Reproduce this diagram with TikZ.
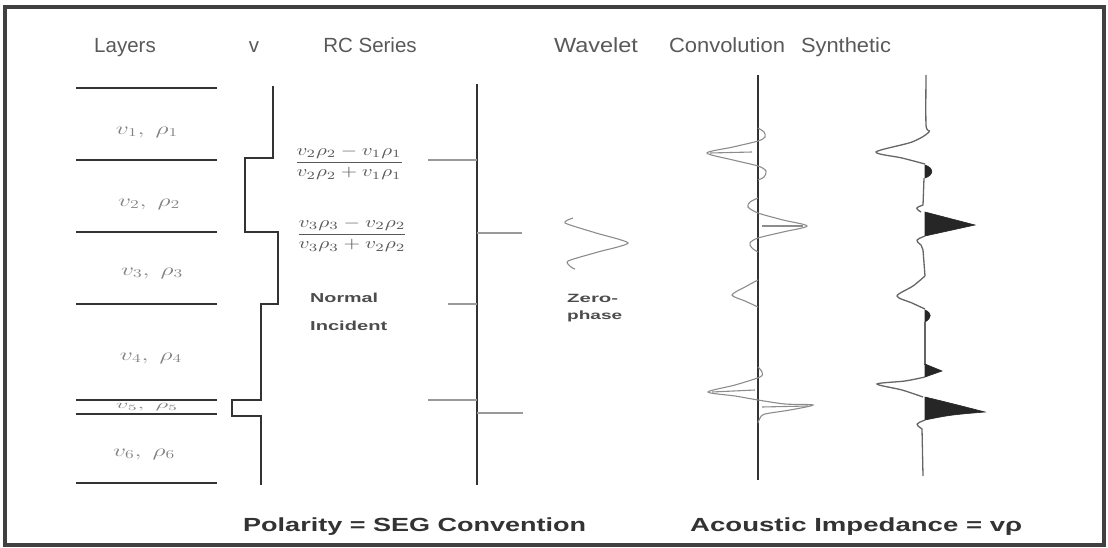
\documentclass[tikz,border=0pt]{standalone}
\usepackage{fontspec}
\setmainfont{Liberation Sans}
\usepackage{graphicx}
\begin{document}
\begin{tikzpicture}[x=1pt,y=-1pt,
  frame/.style={line width=4pt, draw=black!75},
  layer/.style={line width=2.8pt, draw=black!80},
  prof/.style={line width=2.2pt, draw=black!80},
  axis/.style={line width=1.8pt, draw=black!80},
  spike/.style={line width=1.1pt, draw=black!40},
  trace/.style={line width=1.1pt, draw=black!45},
  syn/.style={line width=1.3pt, draw=black!60},
  lobe/.style={fill=black!85, draw=black!85, line width=0.6pt},
  head/.style={text=black!65, font=\fontsize{20.5}{20.5}\selectfont, anchor=base, inner sep=0pt},
  lab/.style={text=black!50, anchor=center, inner sep=0pt},
  frac/.style={text=black!65, anchor=center, inner sep=0pt},
  note/.style={text=black!70, font=\fontsize{13}{13}\selectfont\bfseries, anchor=base west, inner sep=0pt},
  foot/.style={text=black!80, font=\fontsize{19}{19}\selectfont\bfseries, anchor=base west, inner sep=0pt},
]
\useasboundingbox (0,0) rectangle (1108,548);
\draw[frame] (5,7) rectangle (1104,545);

% headings
\node[head] (hL) at (125,53) {Layers};
\node[head] (hv) at (254,53) {v};
\node[head] (hR) at (370,53) {RC Series};
\node[head] (hW) at (596,53) {\resizebox{84pt}{\height}{Wavelet}};
\node[head] (hC) at (727,53) {\resizebox{116pt}{\height}{Convolution}};
\node[head] (hS) at (846,53) {\resizebox{90pt}{\height}{Synthetic}};

% layers
\foreach \y in {88,160,232,304,400,414,483} \draw[layer] (76,\y) -- (217,\y);
\node[lab] (l1) at (147,132) {\resizebox{62pt}{\height}{\fontsize{17}{17}\selectfont$v_1,\ \rho_1$}};
\node[lab] (l2) at (149,204) {\resizebox{62pt}{\height}{\fontsize{17}{17}\selectfont$v_2,\ \rho_2$}};
\node[lab] (l3) at (152,273) {\resizebox{62pt}{\height}{\fontsize{17}{17}\selectfont$v_3,\ \rho_3$}};
\node[lab] (l4) at (151,358) {\resizebox{62pt}{\height}{\fontsize{17}{17}\selectfont$v_4,\ \rho_4$}};
\node[lab] (l5) at (147,407) {\resizebox{62pt}{\height}{\fontsize{12}{12}\selectfont$v_5,\ \rho_5$}};
\node[lab] (l6) at (144,454) {\resizebox{62pt}{\height}{\fontsize{17}{17}\selectfont$v_6,\ \rho_6$}};

% velocity profile
\draw[prof] (273,86) -- (273,158) -- (245,158) -- (245,232) -- (278,232) -- (278,304)
  -- (261,304) -- (261,400) -- (232,400) -- (232,416) -- (261,416) -- (261,485);

% RC formulas
\node[frac] (f1) at (349,163) {\resizebox*{110pt}{34pt}{$\displaystyle\frac{v_2\rho_2-v_1\rho_1}{v_2\rho_2+v_1\rho_1}$}};
\node[frac] (f2) at (352,235) {\resizebox*{112pt}{34pt}{$\displaystyle\frac{v_3\rho_3-v_2\rho_2}{v_3\rho_3+v_2\rho_2}$}};
\node[note] (n1) at (310,302) {\resizebox{68pt}{\height}{Normal}};
\node[note] (n2) at (310,330) {\resizebox{77pt}{\height}{Incident}};

% RC series
\draw[axis] (477,84) -- (477,485);
\draw[spike] (428,160) -- (477,160);
\draw[spike] (477,233) -- (522,233);
\draw[spike] (448,304) -- (477,304);
\draw[spike] (428,400) -- (477,400);
\draw[spike] (477,413) -- (523,413);

% wavelet
\draw[trace] plot[smooth,tension=0.4] coordinates {(573,218) (565,223) (596,233) (628,243) (598,252) (568,261) (571,267) (575,269)};
\node[note, font=\fontsize{12}{12}\selectfont\bfseries] (z1) at (567,302) {\resizebox{51pt}{\height}{Zero-}};
\node[note, font=\fontsize{12}{12}\selectfont\bfseries] (z2) at (567,319) {\resizebox{55pt}{\height}{phase}};

% convolution
\draw[axis] (758,75) -- (758,480);
\draw[trace] plot[smooth,tension=0.5] coordinates {(758,128) (764,132) (765,137) (758,141) (733,147) (707,153) (733,160) (758,166) (766,171) (764,177) (758,180)};
\draw[trace] (752,152) -- (710,153);
\draw[trace] plot[smooth,tension=0.5] coordinates {(758,198) (750,202) (748,207) (758,213) (783,220) (807,226) (783,232) (758,238) (750,243) (752,248) (758,252)};
\draw[trace] (762,226) -- (803,226);
\draw[trace] plot[smooth,tension=0.5] coordinates {(758,280) (745,287) (732,295) (745,301) (758,307)};
\draw[trace] plot[smooth,tension=0.5] coordinates {(758,367) (762,372) (760,377) (735,385) (708,392) (735,396) (758,400) (785,404) (813,405) (790,410) (765,414) (760,418) (758,423)};
\draw[trace] (712,392) -- (755,390);
\draw[trace] (762,407) -- (808,406);

% synthetic
\draw[syn] plot[smooth,tension=0.5] coordinates {(926,75) (926,125) (929,132) (912,142) (876,152) (902,158) (925,164)};
\filldraw[lobe] (925,165) .. controls (934,168) and (934,175) .. (925,178) -- cycle;
\draw[syn] (924,178) -- (923,205) .. controls (915,208) .. (921,212);
\filldraw[lobe] (925,212) .. controls (950,218) .. (975,225) .. controls (950,230) .. (925,236) -- cycle;
\draw[syn] (925,236) .. controls (915,240) .. (921,245) -- (923,250) -- (925,276);
\draw[syn] plot[smooth,tension=0.5] coordinates {(925,276) (913,286) (897,296) (912,303) (925,309)};
\filldraw[lobe] (925,310) .. controls (932,313) and (932,318) .. (925,322) -- cycle;
\draw[syn] (925,322) -- (925,365);
\filldraw[lobe] (925,364) -- (942,371) -- (925,377) -- cycle;
\draw[syn] plot[smooth,tension=0.5] coordinates {(925,377) (905,381) (877,384) (902,390) (923,397)};
\filldraw[lobe] (925,397) .. controls (950,403) .. (985,412) .. controls (950,415) .. (925,420) -- cycle;
\draw[syn] (925,420) .. controls (915,424) .. (922,429) -- (923,476);

% footer
\node[foot] (p) at (243,531) {\resizebox{343pt}{\height}{Polarity = SEG Convention}};
\node[foot] (a) at (690,531) {\resizebox{332pt}{\height}{Acoustic Impedance = vρ}};
\end{tikzpicture}
\end{document}
